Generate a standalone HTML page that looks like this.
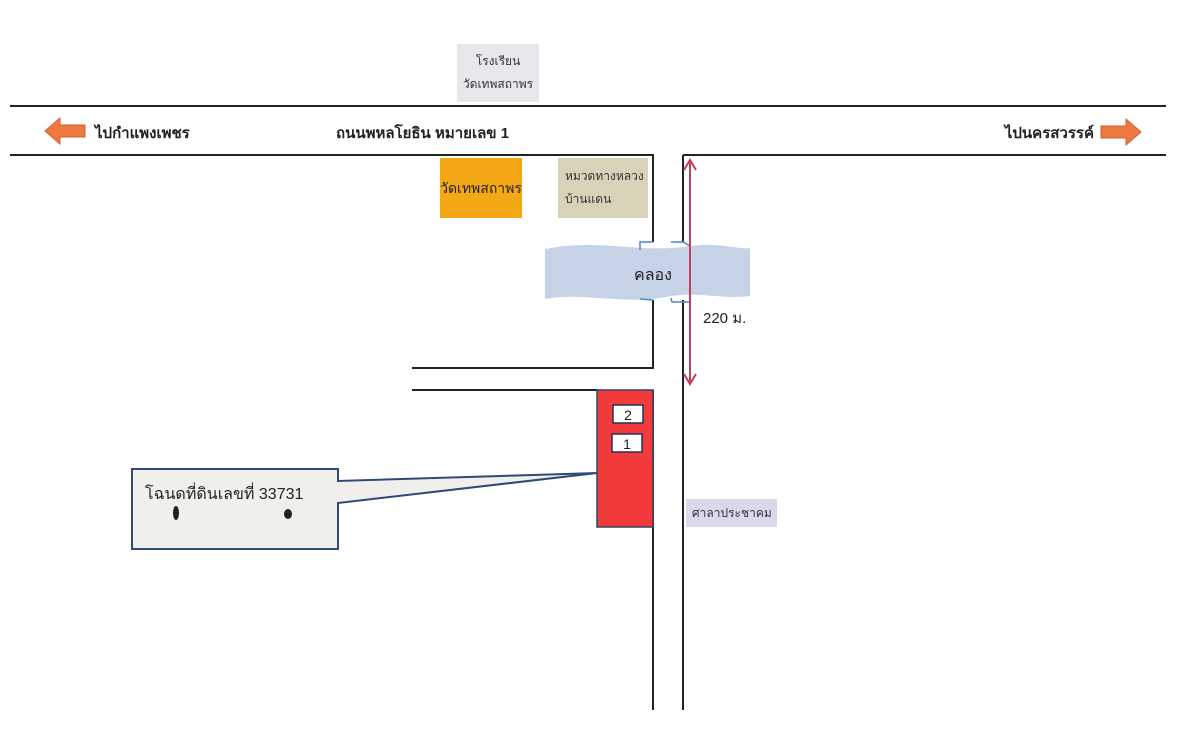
<!DOCTYPE html>
<html><head><meta charset="utf-8"><style>
html,body{margin:0;padding:0;background:#fff;}
svg{display:block;font-family:"Liberation Sans","Noto Sans CJK SC",sans-serif;}
</style></head><body>
<svg width="1200" height="746" viewBox="0 0 1200 746" xmlns="http://www.w3.org/2000/svg">
<rect width="1200" height="746" fill="#fff"/>
<!-- school label -->
<rect x="457" y="44" width="82" height="58" fill="#e6e8ec"/>
<text x="498" y="65" font-size="12" text-anchor="middle" fill="#333">โรงเรียน</text>
<text x="498" y="88" font-size="12" text-anchor="middle" fill="#333">วัดเทพสถาพร</text>
<!-- main road -->
<g stroke="#222" stroke-width="2" fill="none">
<line x1="10" y1="106" x2="1166" y2="106"/>
<line x1="10" y1="155" x2="654" y2="155"/>
<line x1="683" y1="155" x2="1166" y2="155"/>
<line x1="653" y1="155" x2="653" y2="242"/>
<line x1="653" y1="300" x2="653" y2="369"/>
<line x1="683" y1="155" x2="683" y2="242"/>
<line x1="683" y1="300" x2="683" y2="710"/>
<line x1="412" y1="368" x2="654" y2="368"/>
<line x1="412" y1="390" x2="598" y2="390"/>
<line x1="653" y1="390" x2="653" y2="710"/>
</g>
<!-- arrows -->
<polygon points="45,131 60,118 60,125 85,125 85,137 60,137 60,144" fill="#ed7840" stroke="#d06030"/>
<polygon points="1141,132 1126,119 1126,126 1101,126 1101,138 1126,138 1126,145" fill="#ed7840" stroke="#d06030"/>
<text x="95" y="138" font-size="15" font-weight="bold" fill="#222">ไปกำแพงเพชร</text>
<text x="336" y="138" font-size="15" font-weight="bold" fill="#222">ถนนพหลโยธิน หมายเลข 1</text>
<text x="1094" y="138" font-size="15" font-weight="bold" fill="#222" text-anchor="end">ไปนครสวรรค์</text>
<!-- boxes -->
<rect x="440" y="158" width="82" height="60" fill="#f5a816"/>
<text x="481" y="193" font-size="14" text-anchor="middle" fill="#222">วัดเทพสถาพร</text>
<rect x="558" y="158" width="90" height="60" fill="#d6d3b8"/>
<text x="565" y="180" font-size="12" fill="#333">หมวดทางหลวง</text>
<text x="565" y="203" font-size="12" fill="#333">บ้านแดน</text>
<!-- canal -->
<path d="M545,249 C600,238 640,254 690,246 C720,242 740,250 750,248 L750,296 C720,300 700,290 660,298 C620,304 580,292 545,299 Z" fill="#c6d3e6"/>
<g stroke="#4a88c8" stroke-width="1.5" fill="none">
<path d="M640,250 L640,242 L653,242"/><path d="M671,242 L683,242 L690,246"/>
<path d="M640,299 L653,300"/><path d="M671,298 L672,302 L690,302"/>
</g>
<text x="653" y="280" font-size="16" text-anchor="middle" fill="#222">คลอง</text>
<!-- red distance arrow -->
<g stroke="#c04060" stroke-width="2" fill="none">
<line x1="690" y1="160" x2="690" y2="384"/>
<polyline points="684,170 690,160 696,170"/>
<polyline points="684,374 690,384 696,374"/>
</g>
<text x="703" y="323" font-size="15" fill="#222">220 ม.</text>
<!-- red plot -->
<rect x="597" y="390" width="56" height="137" fill="#f23a3a" stroke="#334466" stroke-width="1.5"/>
<rect x="613" y="405" width="30" height="18" fill="#fff" stroke="#223355" stroke-width="1.5"/>
<text x="628" y="420" font-size="14" text-anchor="middle" fill="#222">2</text>
<rect x="612" y="434" width="30" height="18" fill="#fff" stroke="#223355" stroke-width="1.5"/>
<text x="627" y="449" font-size="14" text-anchor="middle" fill="#222">1</text>
<!-- callout -->
<polygon points="132,469 338,469 338,481 597,473 338,503 338,549 132,549" fill="#f0efec" stroke="#2f4a78" stroke-width="2"/>
<text x="145" y="499" font-size="16" fill="#222">โฉนดที่ดินเลขที่ 33731</text>
<ellipse cx="176" cy="513" rx="3" ry="7" fill="#222"/>
<ellipse cx="288" cy="514" rx="4" ry="5" fill="#222"/>
<!-- sala -->
<rect x="686" y="499" width="91" height="28" fill="#dcd8ec"/>
<text x="692" y="517" font-size="12" fill="#333">ศาลาประชาคม</text>
</svg>
</body></html>
